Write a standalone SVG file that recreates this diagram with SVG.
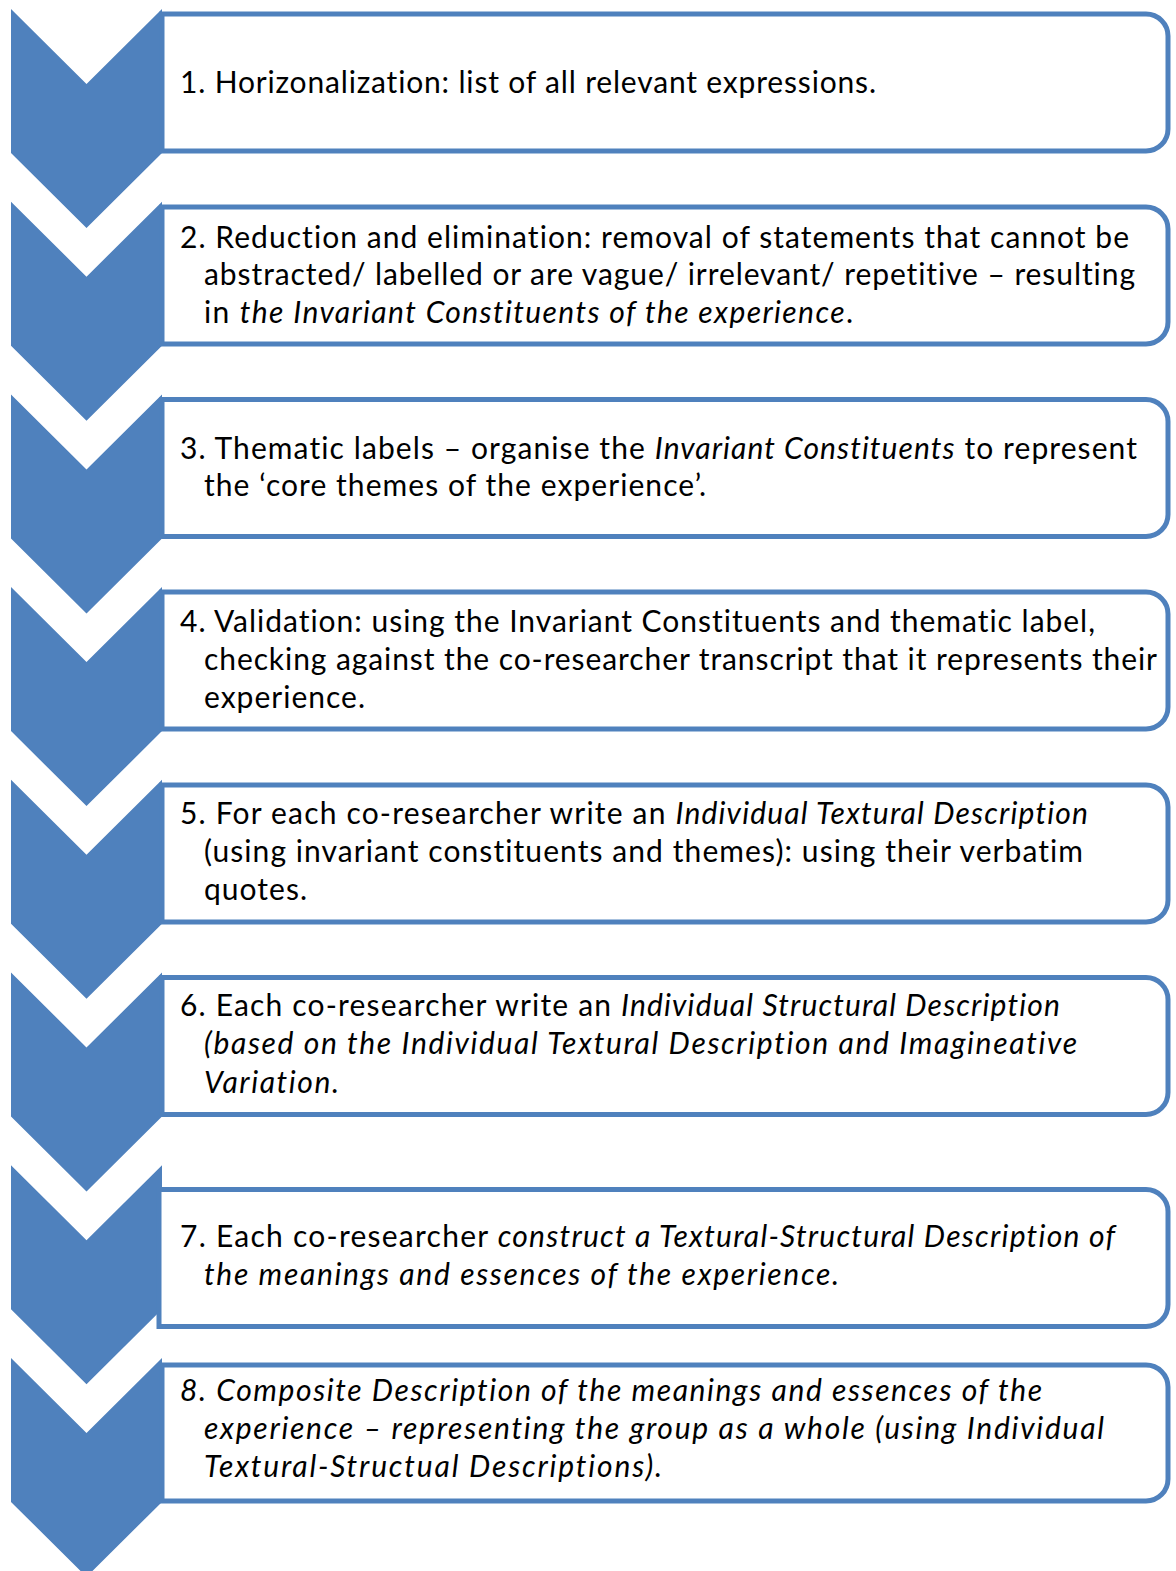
<svg xmlns="http://www.w3.org/2000/svg" width="1176" height="1571" viewBox="0 0 1176 1571">
<style>
.box{fill:#fff;stroke:#4F81BD;stroke-width:5}
.chev{fill:#4F81BD}
text{font-family:Lato,"Liberation Sans",sans-serif;font-size:30px;fill:#000;font-variant-ligatures:none}
.i{font-style:italic}
</style>
<rect width="1176" height="1571" fill="#fff"/>
<g id="connectors">
<polygon class="chev" points="11,9 86.5,84 162,9 162,153 86.5,228 11,153"/>
<polygon class="chev" points="11,201.7 86.5,276.7 162,201.7 162,345.7 86.5,420.7 11,345.7"/>
<polygon class="chev" points="11,394.4 86.5,469.4 162,394.4 162,538.4 86.5,613.4 11,538.4"/>
<polygon class="chev" points="11,587.1 86.5,662.1 162,587.1 162,731.1 86.5,806.1 11,731.1"/>
<polygon class="chev" points="11,779.8 86.5,854.8 162,779.8 162,923.8 86.5,998.8 11,923.8"/>
<polygon class="chev" points="11,972.5 86.5,1047.5 162,972.5 162,1116.5 86.5,1191.5 11,1116.5"/>
<polygon class="chev" points="11,1165.2 86.5,1240.2 162,1165.2 162,1309.2 86.5,1384.2 11,1309.2"/>
<polygon class="chev" points="11,1357.9 86.5,1432.9 162,1357.9 162,1501.9 86.5,1576.9 11,1501.9"/>
</g>
<g id="step1">
<path class="box" d="M162,14 H1146 A22,22 0 0 1 1168,36 V129 A22,22 0 0 1 1146,151 H162 Z"/>
<text x="180" y="92.5" textLength="696">1. Horizonalization: list of all relevant expressions.</text>
</g>
<g id="step2">
<path class="box" d="M162,207 H1146 A22,22 0 0 1 1168,229 V322 A22,22 0 0 1 1146,344 H162 Z"/>
<text x="180" y="247.5" textLength="949">2. Reduction and elimination: removal of statements that cannot be</text>
<text x="204" y="285" textLength="931">abstracted/ labelled or are vague/ irrelevant/ repetitive – resulting</text>
<text x="204" y="322.5" textLength="649">in <tspan class="i">the Invariant Constituents of the experience</tspan>.</text>
</g>
<g id="step3">
<path class="box" d="M162,399.5 H1146 A22,22 0 0 1 1168,421.5 V514.5 A22,22 0 0 1 1146,536.5 H162 Z"/>
<text x="180" y="458.5" textLength="957">3. Thematic labels – organise the <tspan class="i">Invariant Constituents</tspan> to represent</text>
<text x="204" y="496" textLength="502">the ‘core themes of the experience’.</text>
</g>
<g id="step4">
<path class="box" d="M162,592 H1146 A22,22 0 0 1 1168,614 V707 A22,22 0 0 1 1146,729 H162 Z"/>
<text x="180" y="631.5" textLength="915">4. Validation: using the Invariant Constituents and thematic label,</text>
<text x="204" y="669.5" textLength="953">checking against the co-researcher transcript that it represents their</text>
<text x="204" y="707.5" textLength="161">experience.</text>
</g>
<g id="step5">
<path class="box" d="M162,785 H1146 A22,22 0 0 1 1168,807 V900 A22,22 0 0 1 1146,922 H162 Z"/>
<text x="180" y="823.5" textLength="908">5. For each co-researcher write an <tspan class="i">Individual Textural Description</tspan></text>
<text x="204" y="861.5" textLength="879">(using invariant constituents and themes): using their verbatim</text>
<text x="204" y="899.5" textLength="103">quotes.</text>
</g>
<g id="step6">
<path class="box" d="M162,977.5 H1146 A22,22 0 0 1 1168,999.5 V1092.5 A22,22 0 0 1 1146,1114.5 H162 Z"/>
<text x="180" y="1015.5" textLength="880">6. Each co-researcher write an <tspan class="i">Individual Structural Description</tspan></text>
<text x="204" y="1054" textLength="873" class="i">(based on the Individual Textural Description and Imagineative</text>
<text x="204" y="1092.5" textLength="135" class="i">Variation.</text>
</g>
<g id="step7">
<path class="box" d="M159,1189.5 H1146 A22,22 0 0 1 1168,1211.5 V1304.5 A22,22 0 0 1 1146,1326.5 H159 Z"/>
<text x="180" y="1246.5" textLength="935">7. Each co-researcher <tspan class="i">construct a Textural-Structural Description of</tspan></text>
<text x="204" y="1284.5" textLength="635" class="i">the meanings and essences of the experience.</text>
</g>
<g id="step8">
<path class="box" d="M162,1365 H1146 A22,22 0 0 1 1168,1387 V1479 A22,22 0 0 1 1146,1501 H162 Z"/>
<text x="180" y="1400.5" textLength="862" class="i">8. Composite Description of the meanings and essences of the</text>
<text x="204" y="1438.5" textLength="900" class="i">experience – representing the group as a whole (using Individual</text>
<text x="204" y="1476.5" textLength="458" class="i">Textural-Structual Descriptions).</text>
</g>
</svg>
